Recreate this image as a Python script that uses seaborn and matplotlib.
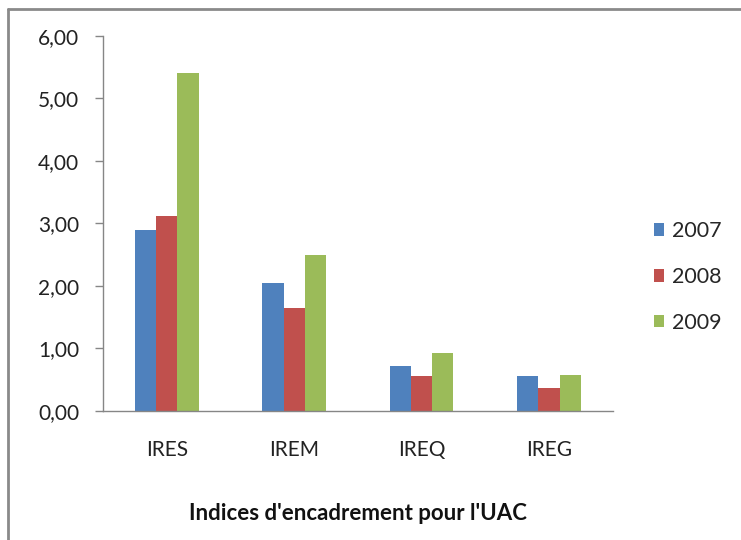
import pandas as pd
import matplotlib.pyplot as plt
import seaborn as sns
from matplotlib.lines import Line2D
from matplotlib.ticker import FuncFormatter

# Données
indices = ["IRES", "IREM", "IREQ", "IREG"]
annees = ["2007", "2008", "2009"]
val_2007 = [2.89, 2.05, 0.72, 0.56]
val_2008 = [3.12, 1.64, 0.56, 0.36]
val_2009 = [5.40, 2.49, 0.93, 0.57]
couleurs = ["#4F81BD", "#C0504D", "#9BBB59"]

df = pd.DataFrame({
    "indice": indices * 3,
    "annee": [a for a in annees for _ in indices],
    "valeur": val_2007 + val_2008 + val_2009,
})

sns.set_style("white")
plt.rcParams["font.family"] = ["Lato", "DejaVu Sans"]

fig = plt.figure(figsize=(7.41, 5.40), dpi=100)
ax = fig.add_axes([0.139, 0.2394, 0.688, 0.694])

sns.barplot(data=df, x="indice", y="valeur", hue="annee", palette=couleurs,
            width=0.5, ax=ax, saturation=1, edgecolor="none")

# axes style Excel
ax.set_ylim(0, 6)
ax.set_yticks(range(0, 7))
ax.yaxis.set_major_formatter(FuncFormatter(lambda v, p: f"{v:.2f}".replace(".", ",")))
for side in ["top", "right"]:
    ax.spines[side].set_visible(False)
for side in ["left", "bottom"]:
    ax.spines[side].set_color("#868686")
    ax.spines[side].set_linewidth(1)
ax.tick_params(axis="y", direction="out", length=6, width=1, color="#868686",
               pad=11, labelsize=15, labelcolor="#222222", left=True)
ax.tick_params(axis="x", length=0, pad=21, labelsize=15, labelcolor="#222222")
ax.set_ylabel("")
ax.set_xlabel("Indices d'encadrement pour l'UAC", fontsize=16, fontweight="bold",
              labelpad=31, color="#111111")

# légende à droite
handles, labels = ax.get_legend_handles_labels()
ax.legend(handles, labels, loc="center left", bbox_to_anchor=(0.882, 0.487),
          bbox_transform=fig.transFigure, frameon=False, fontsize=15.5,
          handlelength=0.5, handleheight=0.5, handletextpad=0.35,
          labelspacing=1.2, borderpad=0, borderaxespad=0)

# cadre partiel du graphique
fig.add_artist(Line2D([0.011, 1.0], [0.983, 0.983], transform=fig.transFigure,
                      color="#8a8a8a", lw=2))
fig.add_artist(Line2D([0.011, 0.011], [0.0, 0.983], transform=fig.transFigure,
                      color="#8a8a8a", lw=2))

fig.savefig("out.png", dpi=100)
